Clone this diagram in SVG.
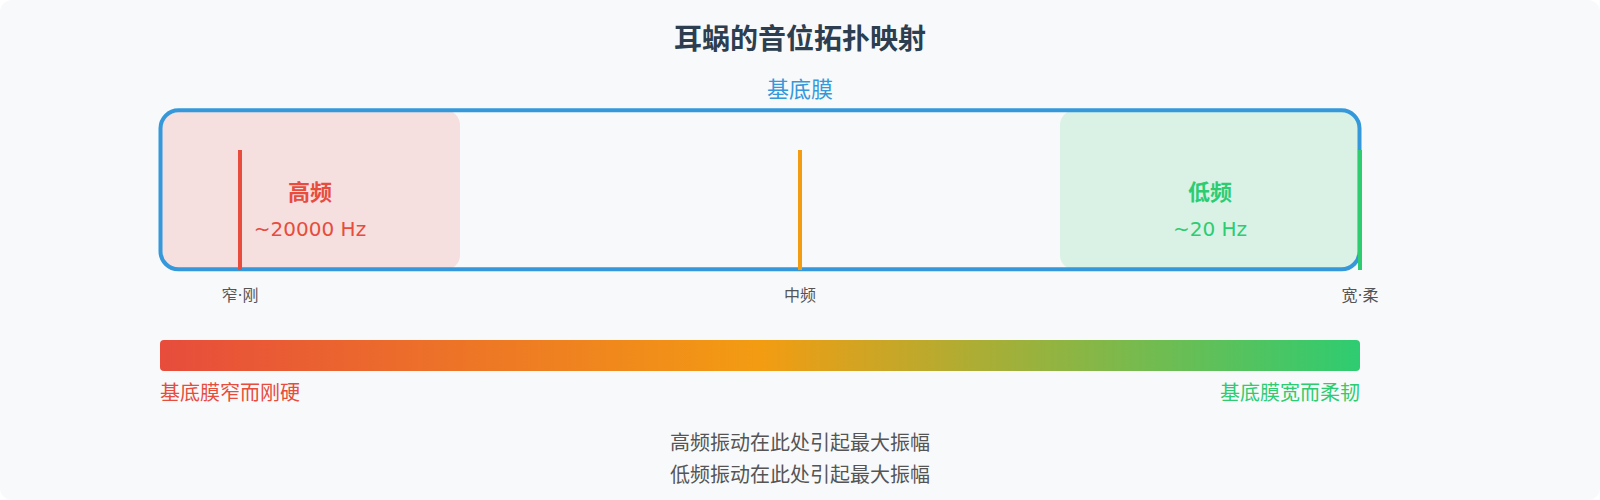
<svg xmlns="http://www.w3.org/2000/svg" width="1600" height="500" viewBox="0 0 1600 500">
<style>
text{font-family:"DejaVu Sans","Noto Sans CJK SC",sans-serif}
.t{font-size:28px;font-weight:bold;fill:#2c3e50;text-anchor:middle}
.bm{font-size:22px;fill:#3498db;text-anchor:middle}
.lab{font-size:22px;font-weight:bold;text-anchor:middle}
.hz{font-size:20px;text-anchor:middle}
.small{font-size:16px;fill:#555;text-anchor:middle}
.note{font-size:20px;fill:#555;text-anchor:middle}
.side{font-size:20px}
.mark{stroke-width:4}
</style>
<defs>
<linearGradient id="grad" x1="0" y1="0" x2="1" y2="0">
<stop offset="0" stop-color="#e74c3c"/>
<stop offset="0.5" stop-color="#f39c12"/>
<stop offset="1" stop-color="#2ecc71"/>
</linearGradient>
</defs>
<rect x="0" y="0" width="1600" height="500" rx="12" fill="#f8f9fa"/>
<text class="t" x="800" y="49">耳蜗的音位拓扑映射</text>
<text class="bm" x="800" y="97">基底膜</text>
<g id="high">
<rect x="160" y="110" width="300" height="160" rx="15" fill="#f5dfdf"/>
<text class="lab" x="310" y="200" fill="#e74c3c">高频</text>
<text class="hz" x="310" y="236" fill="#e74c3c">~20000 Hz</text>
</g>
<g id="low">
<rect x="1060" y="110" width="300" height="160" rx="15" fill="#d9f2e5"/>
<text class="lab" x="1210" y="200" fill="#2ecc71">低频</text>
<text class="hz" x="1210" y="236" fill="#2ecc71">~20 Hz</text>
</g>
<g id="membrane">
<rect x="160.5" y="110.3" width="1199" height="159" rx="18" fill="none" stroke="#3498db" stroke-width="4"/>
</g>
<g id="markers">
<line class="mark" x1="240" y1="150" x2="240" y2="270" stroke="#e74c3c"/>
<line class="mark" x1="800" y1="150" x2="800" y2="270" stroke="#f39c12"/>
<line class="mark" x1="1360" y1="150" x2="1360" y2="270" stroke="#2ecc71"/>
<text class="small" x="240" y="301">窄·刚</text>
<text class="small" x="800" y="301">中频</text>
<text class="small" x="1360" y="301">宽·柔</text>
</g>
<g id="gradient-bar">
<rect x="160" y="340" width="1200" height="31" rx="4" fill="url(#grad)"/>
<text class="side" x="160" y="400" fill="#e74c3c">基底膜窄而刚硬</text>
<text class="side" x="1360" y="400" fill="#2ecc71" text-anchor="end">基底膜宽而柔韧</text>
</g>
<g id="notes">
<text class="note" x="800" y="450">高频振动在此处引起最大振幅</text>
<text class="note" x="800" y="482">低频振动在此处引起最大振幅</text>
</g>
</svg>
